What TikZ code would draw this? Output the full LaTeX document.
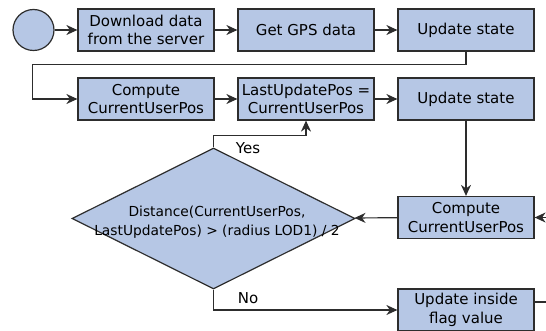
\documentclass[tikz,border=0pt]{standalone}
\usepackage{fontspec}
\setmainfont{DejaVu Sans}
\usetikzlibrary{shapes.geometric,arrows.meta}
\definecolor{boxblue}{RGB}{182,199,229}
\definecolor{edgegray}{RGB}{45,45,45}
\tikzset{
  stepbox/.style={draw=edgegray,fill=boxblue,line width=1.2pt,minimum width=136pt,minimum height=42pt,
    inner sep=1pt,align=center,font=\fontsize{15}{18.3}\selectfont},
  flow/.style={draw=edgegray,line width=1.2pt,-{Stealth[length=11pt,width=10pt,inset=3.5pt]}},
  edge/.style={draw=edgegray,line width=1.2pt},
  lbl/.style={font=\fontsize{15}{17}\selectfont,inner sep=0pt},
}
\begin{document}
\begin{tikzpicture}[x=1pt,y=-1pt]
  \useasboundingbox (0,0) rectangle (546,331);
  % first row
  \node[circle,draw=edgegray,fill=boxblue,line width=1.2pt,minimum size=41pt,inner sep=0pt] (start) at (33.5,30) {};
  \node[stepbox] (download) at (146,30) {Download data\\from the server};
  \node[stepbox] (gps) at (306,30) {Get GPS data};
  \node[stepbox] (state1) at (466,30) {Update state};
  % second row
  \node[stepbox] (compute1) at (146,99) {Compute\\CurrentUserPos};
  \node[stepbox] (lastpos) at (306,99) {LastUpdatePos =\\CurrentUserPos};
  \node[stepbox] (state2) at (466,99) {Update state};
  % right column
  \node[stepbox] (compute2) at (466,217.5) {Compute\\CurrentUserPos};
  \node[stepbox] (flag) at (466,310) {Update inside\\flag value};
  % decision
  \node[diamond,draw=edgegray,fill=boxblue,line width=1.2pt,minimum width=283pt,minimum height=141pt,
    inner sep=0pt,aspect=2] (decision) at (213.5,218.5) {};
  \node[align=center,font=\fontsize{13.8}{19}\selectfont,inner sep=0pt] (condition) at (217,222)
    {Distance(CurrentUserPos,\\LastUpdatePos) > (radius LOD1) / 2};
  \coordinate (rightin) at (546,217.5);
  \coordinate (rightout) at (546,302);

  \foreach \a/\b in {start/download, download/gps, gps/state1, compute1/lastpos, lastpos/state2, state2/compute2, compute2/decision, rightin/compute2} {
    \draw[flow] (\a) -- (\b);
  }
  \draw[flow] (state1.south) -- ++(0,13) -| ([xshift=-45pt]compute1.west) -- (compute1.west);
  \draw[flow] (decision.north) -- ++(0,-12) -| (lastpos.south);
  \draw[flow] (decision.south) |- (flag.west);
  \draw[edge] (flag.east |- rightout) -- (rightout);
  \node[lbl] (yes) at (248,148) {Yes};
  \node[lbl] (no) at (248,298) {No};
\end{tikzpicture}
\end{document}
